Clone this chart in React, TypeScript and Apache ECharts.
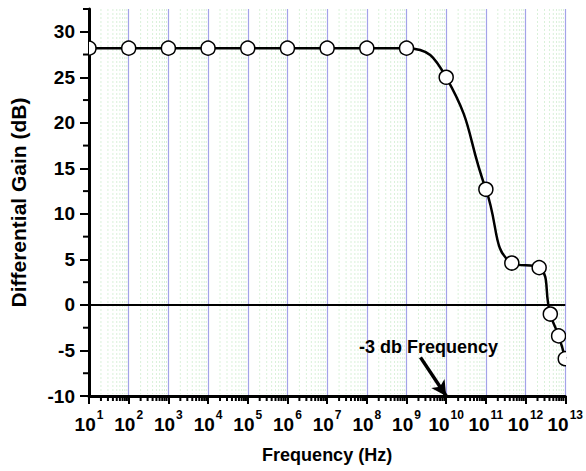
import React, { useEffect, useRef } from "react";
import * as echarts from "echarts";

// Measured differential gain of the amplifier vs. input frequency
const frequenciesHz = [
  1e1, 1e2, 1e3, 1e4, 1e5, 1e6, 1e7, 1e8, 1e9, 1e10, 1e11, 4.5e11, 2.2e12, 4.2e12, 6.8e12, 1e13,
];
const gainDb = [
  28.2, 28.2, 28.2, 28.2, 28.2, 28.2, 28.2, 28.2, 28.2, 25.0, 12.7, 4.6, 4.1, -1.0, -3.4, -5.9,
];

// Axis layout: decades of frequency and gain ticks
const decadeMin = 1;
const decadeMax = 13;
const gainMin = -10;
const gainMax = 32.5;
const gainMajorTicks = [-10, -5, 0, 5, 10, 15, 20, 25, 30];
const gainMinorTicks = [-7.5, -2.5, 2.5, 7.5, 12.5, 17.5, 22.5, 27.5, 32.5];
const decadeMinorMultipliers = [2, 3, 4, 5, 6, 7, 8, 9];

// "-3 db Frequency" callout
const calloutText = "-3 db Frequency";
const calloutLabelAt = [3.6e9, -4.6];
const calloutArrowFrom = [2.25e9, -5.76];
const calloutArrowTo = [1e10, -10];

const FONT = "'Liberation Sans', Arial, Helvetica, sans-serif";

const log10 = (v: number) => Math.log10(v);

export default function App() {
  const ref = useRef<HTMLDivElement>(null);

  useEffect(() => {
    if (!ref.current) return;
    const chart = echarts.init(ref.current, null, { renderer: "svg" });

    const points = frequenciesHz.map((f, i) => [log10(f), gainDb[i]]);

    const minorDecadePositions: number[] = [];
    for (let n = decadeMin; n < decadeMax; n++) {
      decadeMinorMultipliers.forEach((k) => minorDecadePositions.push(n + log10(k)));
    }

    const option: echarts.EChartsOption = {
      animation: false,
      backgroundColor: "#ffffff",
      textStyle: { fontFamily: FONT },
      grid: { left: 89, right: 19, top: 9, bottom: 75, containLabel: false },
      xAxis: {
        type: "value",
        min: decadeMin,
        max: decadeMax,
        interval: 1,
        name: "Frequency (Hz)",
        nameLocation: "middle",
        nameGap: 50,
        nameTextStyle: { fontSize: 18, fontWeight: "bold", color: "#000", fontFamily: FONT },
        axisLine: { onZero: false, lineStyle: { color: "#000", width: 3 } },
        axisTick: { show: true, inside: false, length: 8, lineStyle: { color: "#000", width: 2 } },
        splitLine: { show: true, lineStyle: { color: "#a3a3e8", width: 1.2 } },
        axisLabel: {
          margin: 18,
          showMinLabel: true,
          showMaxLabel: true,
          hideOverlap: false,
          formatter: (v: number) => `{b|10}{s|${v}}`,
          rich: {
            b: { fontSize: 19, fontWeight: "bold", color: "#000", fontFamily: FONT, lineHeight: 20, verticalAlign: "bottom" },
            s: {
              fontSize: 12,
              fontWeight: "bold",
              color: "#000",
              fontFamily: FONT,
              lineHeight: 12,
              verticalAlign: "bottom",
              padding: [0, 0, 13, 1],
            },
          },
        },
      },
      yAxis: {
        type: "value",
        min: gainMin,
        max: gainMax,
        interval: 5,
        name: "Differential Gain (dB)",
        nameLocation: "middle",
        nameGap: 60,
        nameTextStyle: { fontSize: 21, fontWeight: "bold", color: "#000", fontFamily: FONT },
        axisLine: { onZero: false, lineStyle: { color: "#000", width: 3 } },
        axisTick: {
          show: true,
          inside: false,
          length: 9,
          customValues: gainMajorTicks,
          lineStyle: { color: "#000", width: 2 },
        },
        axisLabel: {
          margin: 14,
          customValues: gainMajorTicks,
          fontSize: 19,
          fontWeight: "bold",
          color: "#000",
          fontFamily: FONT,
          formatter: (v: number) => (gainMajorTicks.includes(v) ? String(v) : ""),
        },
        splitLine: { show: false },
      },
      series: [
        {
          // faint minor grid, minor ticks on both axes and the 0 dB reference line
          type: "custom",
          clip: false,
          silent: true,
          z: 1,
          data: [[decadeMin, gainMin]],
          renderItem: (_params: any, api: any) => {
            const children: any[] = [];
            const yBottom = api.coord([decadeMin, gainMin])[1];
            const yTop = api.coord([decadeMin, gainMax])[1];
            const xLeft = api.coord([decadeMin, 0])[0];
            const xRight = api.coord([decadeMax, 0])[0];
            const yZero = api.coord([decadeMin, 0])[1];
            minorDecadePositions.forEach((e) => {
              const x = api.coord([e, 0])[0];
              children.push({
                type: "line",
                shape: { x1: x, y1: yTop, x2: x, y2: yBottom - 2 },
                style: { stroke: "#d9f1d9", lineWidth: 1, lineDash: [2, 2] },
              });
              children.push({
                type: "line",
                shape: { x1: x, y1: yBottom, x2: x, y2: yBottom + 5 },
                style: { stroke: "#000", lineWidth: 2 },
              });
            });
            gainMinorTicks.forEach((g) => {
              const y = api.coord([decadeMin, g])[1];
              children.push({
                type: "line",
                shape: { x1: xLeft - 6, y1: y, x2: xLeft, y2: y },
                style: { stroke: "#000", lineWidth: 2 },
              });
            });
            children.push({
              type: "line",
              shape: { x1: xLeft, y1: yZero, x2: xRight, y2: yZero },
              style: { stroke: "#000", lineWidth: 2 },
            });
            return { type: "group", children };
          },
        },
        {
          type: "line",
          data: points,
          smooth: 0.5,
          showSymbol: false,
          clip: true,
          z: 3,
          lineStyle: { color: "#000", width: 2.5 },
          markLine: {
            silent: true,
            symbol: ["none", "arrow"],
            symbolSize: [12, 15],
            label: { show: false },
            lineStyle: { color: "#000", width: 3.5, type: "solid" },
            data: [
              [
                { coord: [log10(calloutArrowFrom[0]), calloutArrowFrom[1]] },
                { coord: [log10(calloutArrowTo[0]), calloutArrowTo[1]] },
              ],
            ],
          },
          markPoint: {
            silent: true,
            symbol: "circle",
            symbolSize: 0,
            data: [
              {
                coord: [log10(calloutLabelAt[0]), calloutLabelAt[1]],
                label: {
                  show: true,
                  position: "inside",
                  formatter: calloutText,
                  fontSize: 18,
                  fontWeight: "bold",
                  color: "#000",
                  fontFamily: FONT,
                },
              },
            ],
          },
        },
        {
          // open circle markers, clipped at the plot edges
          type: "custom",
          clip: true,
          z: 4,
          data: points,
          renderItem: (_params: any, api: any) => {
            const c = api.coord([api.value(0), api.value(1)]);
            return {
              type: "circle",
              shape: { cx: c[0], cy: c[1], r: 7 },
              style: { fill: "#fff", stroke: "#000", lineWidth: 1.5 },
            };
          },
        },
      ],
    };

    chart.setOption(option);
    return () => chart.dispose();
  }, []);

  return (
    <div
      ref={ref}
      style={{ position: "absolute", left: 0, top: 0, width: 586, height: 471 }}
    />
  );
}
